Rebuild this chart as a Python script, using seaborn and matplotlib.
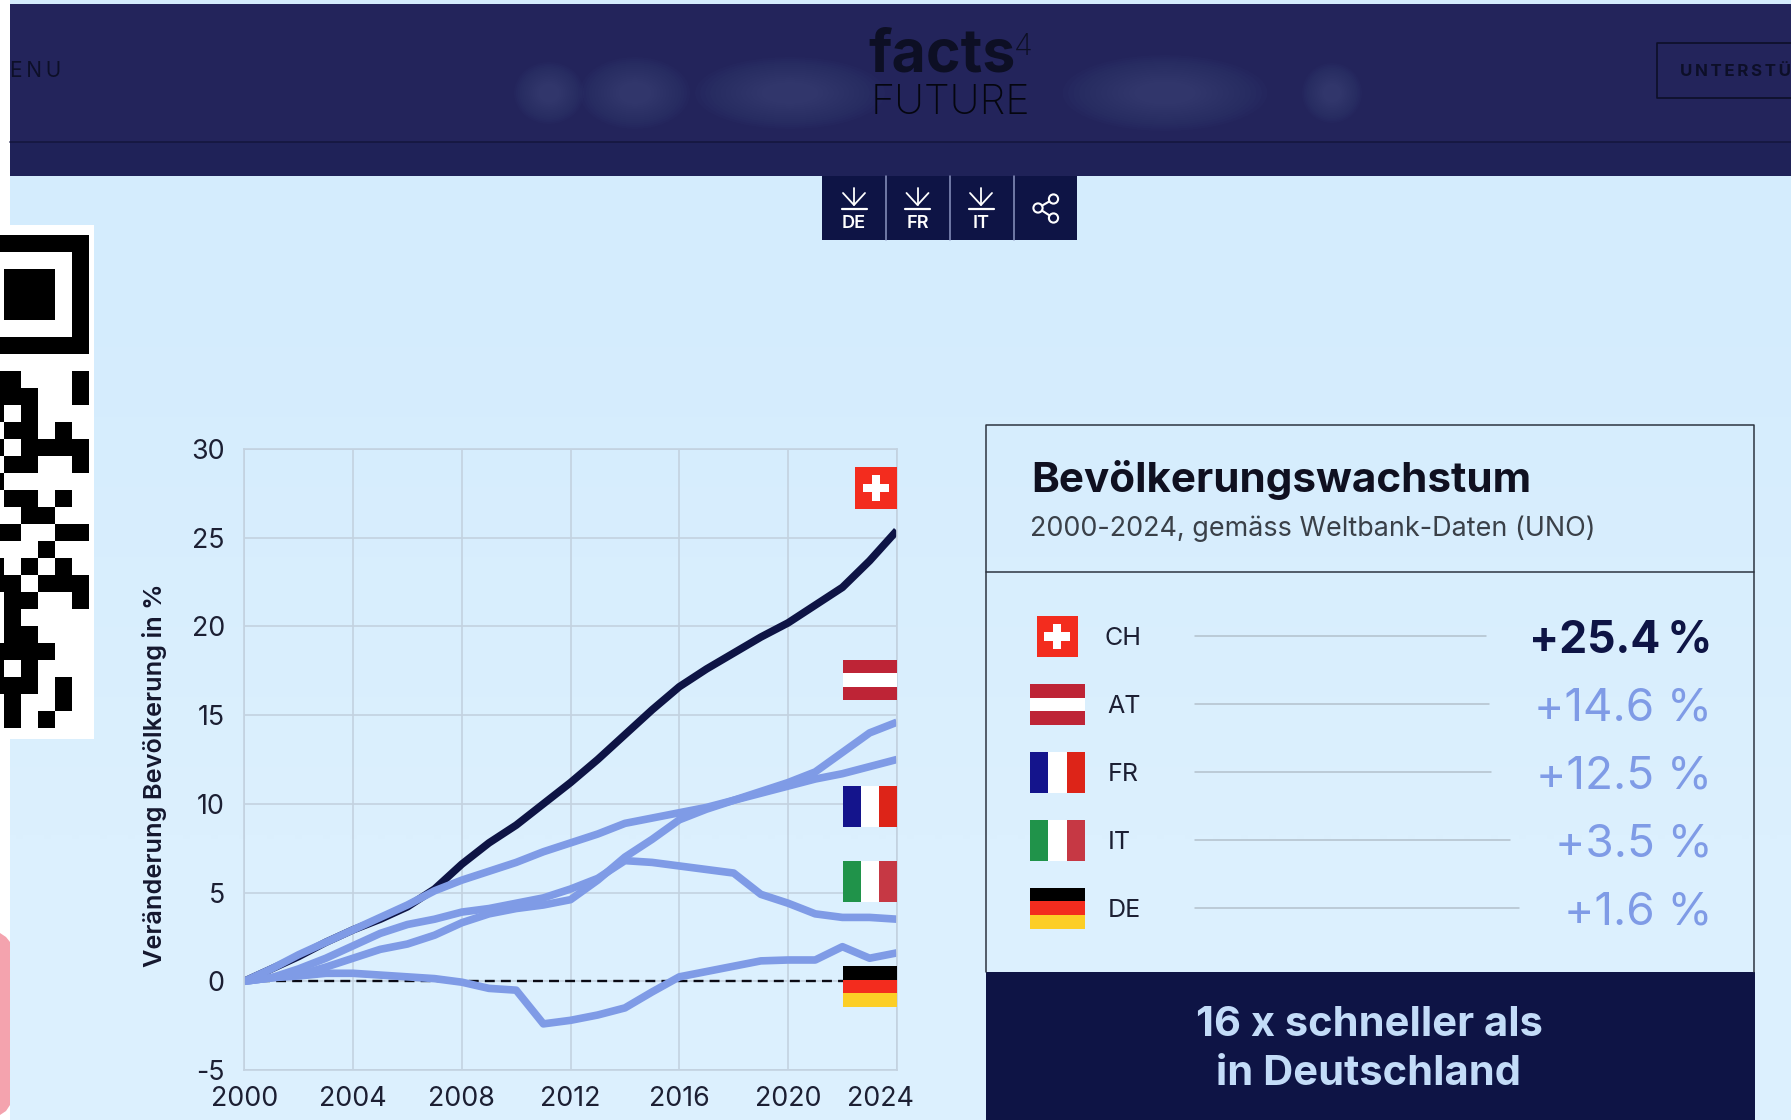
import numpy as np
import pandas as pd
import matplotlib
matplotlib.use('Agg')
import matplotlib.pyplot as plt
from matplotlib.colors import LinearSegmentedColormap
from matplotlib.patches import Rectangle, Ellipse, Polygon, Circle
from matplotlib.transforms import ScaledTranslation
import seaborn as sns

W, H = 1791, 1120
NAVY = '#0e1445'
HEADER = '#23245b'
LIGHT = '#7f9be6'
GRID = '#c3d2e0'

# chart data
years = list(range(2000, 2025))
ch = [0, 0.7, 1.4, 2.2, 2.9, 3.5, 4.2, 5.2, 6.6, 7.8, 8.8, 10.0, 11.2, 12.5, 13.9, 15.3, 16.6, 17.6, 18.5, 19.4, 20.2, 21.2, 22.2, 23.7, 25.4]
at = [0, 0.2, 0.35, 0.8, 1.3, 1.8, 2.1, 2.6, 3.3, 3.8, 4.1, 4.3, 4.6, 5.7, 7.0, 8.0, 9.1, 9.7, 10.2, 10.7, 11.2, 11.8, 12.9, 14.0, 14.6]
fr = [0, 0.7, 1.5, 2.2, 2.9, 3.6, 4.3, 5.1, 5.7, 6.2, 6.7, 7.3, 7.8, 8.3, 8.9, 9.2, 9.5, 9.8, 10.2, 10.6, 11.0, 11.4, 11.7, 12.1, 12.5]
it = [0, 0.2, 0.7, 1.3, 2.0, 2.7, 3.2, 3.5, 3.9, 4.1, 4.4, 4.7, 5.2, 5.8, 6.8, 6.7, 6.5, 6.3, 6.1, 4.9, 4.4, 3.8, 3.6, 3.6, 3.5]
de = [0, 0.2, 0.3, 0.45, 0.45, 0.35, 0.25, 0.15, -0.05, -0.4, -0.5, -2.4, -2.2, -1.9, -1.5, -0.6, 0.25, 0.55, 0.85, 1.15, 1.2, 1.2, 1.95, 1.3, 1.6]
x_ticks = [2000, 2004, 2008, 2012, 2016, 2020, 2024]
y_ticks = [-5, 0, 5, 10, 15, 20, 25, 30]

# table on the right
codes = ['CH', 'AT', 'FR', 'IT', 'DE']
growth = ['+25.4\u2009%', '+14.6 %', '+12.5 %', '+3.5 %', '+1.6 %']

# QR modules: black columns per row, counted from the cut off left edge
qr_rows = [
    [0, 1, 2, 3, 4, 5], [5], [1, 2, 3, 5], [1, 2, 3, 5], [1, 2, 3, 5], [5], [0, 1, 2, 3, 4, 5], [],
    [0, 1, 5], [0, 1, 2, 5], [0, 2], [1, 2, 4], [0, 2, 3, 4, 5], [1, 2, 5], [0], [1, 2, 4],
    [2, 3], [0, 1, 4, 5], [3], [0, 2, 4], [0, 1, 3, 4, 5], [1, 2, 5], [1], [1, 2],
    [0, 1, 2, 3], [0, 2], [0, 1, 2, 4], [1, 4], [1, 3],
]

sns.set_theme(style='white')
plt.rcParams['font.family'] = ['Inter', 'DejaVu Sans']
plt.rcParams['axes.unicode_minus'] = False

fig = plt.figure(figsize=(W / 100, H / 100), dpi=100, facecolor='white')


def px_axes(z):
    a = fig.add_axes([0, 0, 1, 1], zorder=z)
    a.set_xlim(0, W)
    a.set_ylim(H, 0)
    a.axis('off')
    a.patch.set_alpha(0)
    return a


def rect(a, x0, y0, x1, y1, color, **kw):
    a.add_patch(Rectangle((x0, y0), x1 - x0, y1 - y0, facecolor=color, edgecolor='none', **kw))


def flag(a, code, x0, y0, x1, y1):
    w = x1 - x0
    h = y1 - y0
    if code == 'CH':
        rect(a, x0, y0, x1, y1, '#f32c1e')
        cx, cy = (x0 + x1) / 2, (y0 + y1) / 2
        rect(a, cx - w * .31, cy - h * .1, cx + w * .31, cy + h * .1, 'white')
        rect(a, cx - w * .1, cy - h * .31, cx + w * .1, cy + h * .31, 'white')
    elif code == 'AT':
        for i, c in enumerate(['#be2436', 'white', '#be2436']):
            rect(a, x0, y0 + i * h / 3, x1, y0 + (i + 1) * h / 3, c)
    elif code == 'FR':
        for i, c in enumerate(['#14148c', 'white', '#dd2418']):
            rect(a, x0 + i * w / 3, y0, x0 + (i + 1) * w / 3, y1, c)
    elif code == 'IT':
        for i, c in enumerate(['#20934a', 'white', '#c63844']):
            rect(a, x0 + i * w / 3, y0, x0 + (i + 1) * w / 3, y1, c)
    else:
        for i, c in enumerate(['#000000', '#f32c1e', '#fcce26']):
            rect(a, x0, y0 + i * h / 3, x1, y0 + (i + 1) * h / 3, c)


# page background, header, QR code
bg = px_axes(0)
page = LinearSegmentedColormap.from_list('page', ['#d4ecfd', '#dcf0fe'])
bg.imshow([[0], [1]], cmap=page, extent=(10, W, H, 0), aspect='auto', interpolation='bilinear', zorder=0)
bg.set_xlim(0, W)
bg.set_ylim(H, 0)
rect(bg, 10, 4, W, 176, HEADER, zorder=1)
rect(bg, 10, 142, W, 176, '#1f2258', zorder=1)
bg.plot([10, W], [141.5, 141.5], color='#15173f', lw=1.2, zorder=2)
for cx, wd, ht in [(549, 70, 62), (635, 110, 72), (790, 190, 72), (1165, 205, 76), (1332, 60, 60)]:
    for k in np.linspace(1, .3, 14):
        bg.add_patch(Ellipse((cx, 93), wd * k, ht * k, facecolor='#5a6396', edgecolor='none', alpha=.035, zorder=2))
bg.text(868, 72, 'facts', fontsize=42.5, fontweight='bold', color='#0d0f24', va='baseline', ha='left', zorder=3)
bg.text(1014, 55, '4', fontsize=22, color='#0d0f24', va='baseline', ha='left', fontweight='light', zorder=3)
bg.text(871, 114, 'FUTURE', fontsize=29.6, color='#05060f', va='baseline', ha='left', fontweight='light', zorder=3)
bg.text(10, 77, 'E\u2009N\u2009U', fontsize=15, color='#0d0f28', va='baseline', ha='left', zorder=3)
bg.plot([W, 1657, 1657, W], [43, 43, 97.5, 97.5], color='#0d0f28', lw=1.2, zorder=3)
bg.text(1680, 76, 'U\u2009N\u2009T\u2009E\u2009R\u2009S\u2009T\u2009Ü', fontsize=12.2, color='#0d0f28', va='baseline', ha='left',
        fontweight='bold', zorder=3)

rect(bg, 0, 225, 94, 739, 'white', zorder=1)
qr_x = [-13, 4.3, 21.3, 38, 55, 72, 88.7]
for r, cols in enumerate(qr_rows):
    for c in cols:
        rect(bg, max(qr_x[c], 0), 234.8 + r * 17, qr_x[c + 1], 234.8 + (r + 1) * 17, 'black', zorder=2)
bg.add_patch(Polygon([(0, 933), (6, 937), (10, 942), (10, 1105), (6, 1111), (0, 1115)],
                     facecolor='#f4a3ae', edgecolor='none', zorder=1))

# toolbar
rect(bg, 822, 176, 1077, 240, NAVY, zorder=3)
for xd in [885.7, 949.5, 1013.5]:
    bg.plot([xd, xd], [176, 240], color='#8a95c0', lw=1.1, zorder=4)
for xc, lab in zip([854, 917.5, 981], ['DE', 'FR', 'IT']):
    bg.plot([xc, xc], [188, 205], color='white', lw=1.3, zorder=4)
    bg.plot([xc - 11, xc, xc + 11], [193, 205, 193], color='white', lw=1.3, zorder=4)
    bg.plot([xc - 12.5, xc + 12.5], [209, 209], color='white', lw=1.6, zorder=4)
    bg.text(xc, 228, lab, color='white', fontsize=13, fontweight='semibold', ha='center', va='baseline', zorder=4)
pts = [(1053.5, 199), (1038, 208), (1053.5, 218)]
bg.plot([pts[0][0], pts[1][0], pts[2][0]], [pts[0][1], pts[1][1], pts[2][1]], color='white', lw=1.5, zorder=4)
for p in pts:
    bg.add_patch(Circle(p, 4.6, facecolor=NAVY, edgecolor='white', lw=1.5, zorder=5))

# line chart
df = pd.DataFrame({'Jahr': years, 'CH': ch, 'AT': at, 'FR': fr, 'IT': it, 'DE': de})
df = df.melt(id_vars='Jahr', var_name='Land', value_name='Wert')

ax_l, ax_r, ax_t, ax_b = 244.3, 896.8, 449, 1070
ax = fig.add_axes([ax_l / W, 1 - ax_b / H, (ax_r - ax_l) / W, (ax_b - ax_t) / H], zorder=2)
ax.patch.set_alpha(0)
ax.axhline(0, color='#0a0a14', lw=1.7, ls=(0, (4.2, 2.6)), zorder=1.5)
sns.lineplot(data=df, x='Jahr', y='Wert', hue='Land', hue_order=codes,
             palette={'CH': NAVY, 'AT': LIGHT, 'FR': LIGHT, 'IT': LIGHT, 'DE': LIGHT},
             linewidth=5.5, legend=False, ax=ax, zorder=2,
             solid_capstyle='butt', solid_joinstyle='round')
ax.set_xlim(2000, 2024)
ax.set_ylim(-5, 30)
ax.set_xticks(x_ticks)
ax.set_yticks(y_ticks)
ax.grid(True, color=GRID, lw=1.2)
ax.set_axisbelow(True)
for s in ax.spines.values():
    s.set_color(GRID)
    s.set_linewidth(1.2)
ax.tick_params(axis='both', length=0, labelsize=19.3, labelcolor='#1c1f33')
ax.tick_params(axis='x', pad=11.5)
ax.tick_params(axis='y', pad=14)
ax.set_xlabel('')
ax.set_ylabel('')
last = ax.get_xticklabels()[-1]
last.set_transform(last.get_transform() + ScaledTranslation(-16 / 100, 0, fig.dpi_scale_trans))

top = px_axes(3)
top.text(154.5, 775, 'Veränderung Bevölkerung in %', rotation=90, fontsize=18.2, fontweight='semibold',
         color='#14172e', ha='center', va='center')
for code, box in zip(codes, [(855, 467, 897, 509), (843, 660, 897, 700), (843, 786, 897, 827),
                             (843, 861, 897, 902), (843, 966, 897, 1007)]):
    flag(top, code, *box)

# table panel
top.plot([986, 986, 1754, 1754], [972, 425, 425, 972], color='#2d3440', lw=1.1)
top.plot([986, 1754], [571.7, 571.7], color='#2d3440', lw=1.1)
rect(top, 985.5, 972, 1754.5, H, NAVY)
top.text(1031, 492.5, 'Bevölkerungswachstum', fontsize=30.4, fontweight='bold', color='#0f1020', ha='left', va='baseline')
top.text(1030, 535.5, '2000-2024, gemäss Weltbank-Daten (UNO)', fontsize=19.4, color='#3a4048', ha='left', va='baseline')

row_y = [636.4, 704.4, 772.3, 840.2, 908.2]
line_end = [1486, 1489, 1491, 1510, 1519]
label_x = [1104.5, 1107.5, 1107.5, 1107.5, 1107.5]
for i, code in enumerate(codes):
    y = row_y[i]
    if code == 'CH':
        flag(top, code, 1036.5, y - 20.5, 1078, y + 20.5)
    else:
        flag(top, code, 1030, y - 20.5, 1085, y + 20.5)
    top.text(label_x[i], y + 9, code, fontsize=18, color='#1c1f33', ha='left', va='baseline')
    top.plot([1195, line_end[i]], [y, y], color='#b3c1cc', lw=1.1)
    top.text(1712.5, y + 16.5, growth[i], fontsize=32 if code == 'CH' else 33, ha='right', va='baseline',
             color=NAVY if code == 'CH' else LIGHT, fontweight='bold' if code == 'CH' else 'normal')

top.text(1369, 1036, '16 x schneller als', fontsize=30, fontweight='bold', color='#c3dcf8', ha='center', va='baseline')
top.text(1369, 1085, 'in Deutschland', fontsize=30, fontweight='bold', color='#c3dcf8', ha='center', va='baseline')

fig.savefig('out.png', dpi=100, facecolor='white')
